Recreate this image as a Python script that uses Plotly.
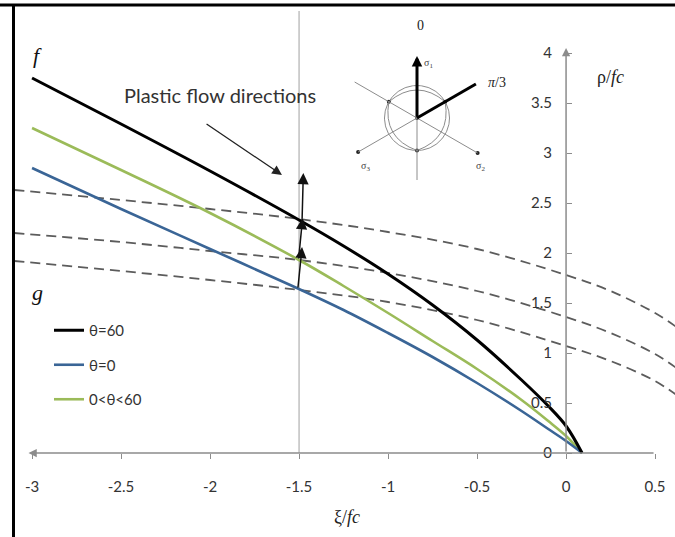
import numpy as np
import plotly.graph_objects as go

# ---- yield surface meridians f (hydrostatic axis xi/fc, deviatoric radius rho/fc)
XI = [-3.0, -2.5, -2.0, -1.5, -1.25, -1.0, -0.75, -0.5, -0.25, -0.1, 0.0, 0.09]
RHO_60 = [3.75, 3.29, 2.82, 2.33, 2.07, 1.79, 1.48, 1.13, 0.73, 0.47, 0.27, 0.0]
RHO_0 = [2.85, 2.44, 2.04, 1.64, 1.43, 1.20, 0.96, 0.70, 0.42, 0.24, 0.12, 0.0]
RHO_MID = [3.25, 2.83, 2.40, 1.93, 1.67, 1.40, 1.12, 0.84, 0.53, 0.32, 0.17, 0.0]

# ---- plastic potential curves g
XI_G = [-3.1, -2.5, -2.0, -1.5, -1.0, -0.5, 0.0, 0.25, 0.5, 0.62]
G_TOP = [2.63, 2.53, 2.44, 2.34, 2.21, 2.04, 1.78, 1.62, 1.40, 1.26]
G_MID = [2.20, 2.11, 2.02, 1.93, 1.80, 1.62, 1.36, 1.20, 0.99, 0.85]
G_LOW = [1.92, 1.82, 1.73, 1.63, 1.51, 1.33, 1.07, 0.92, 0.72, 0.58]

# ---- plastic flow direction arrows (tail -> head)
FLOW_TAIL_XI = [-1.507, -1.503, -1.483]
FLOW_TAIL_RHO = [1.64, 1.93, 2.33]
FLOW_HEAD_XI = [-1.483, -1.480, -1.476]
FLOW_HEAD_RHO = [2.06, 2.35, 2.80]

# ---- axis ticks
X_TICKS = [-3, -2.5, -2, -1.5, -1, -0.5, 0, 0.5]
X_TICK_TEXT = ["-3", "-2.5", "-2", "-1.5", "-1", "-0.5", "0", "0.5"]
Y_TICKS = [0, 0.5, 1, 1.5, 2, 2.5, 3, 3.5, 4]
Y_TICK_TEXT = ["0", "0.5", "1", "1.5", "2", "2.5", "3", "3.5", "4"]

XR = [-3.107, 0.612]
YR = [-0.84, 4.46]

W, H = 675, 537
ML, MR, MT, MB = 13, 0, 7, 0
PW, PH = W - ML - MR, H - MT - MB


def fx(px):
    return (px - ML) / PW


def fy(py):
    return (H - MB - py) / PH


SANS = "Lato"
SERIF = "Liberation Serif"
DASH = "10px,6px"

fig = go.Figure()

for g in (G_TOP, G_MID, G_LOW):
    fig.add_trace(go.Scatter(
        x=XI_G, y=g, mode="lines", showlegend=False, hoverinfo="skip",
        line=dict(color="#5c5c5c", width=1.8, dash=DASH, shape="spline", smoothing=1.0),
    ))

curves = [
    ("0<θ<60", RHO_MID, "#9bbb59", 2.6, 3),
    ("θ=0", RHO_0, "#3a6596", 2.6, 2),
    ("θ=60", RHO_60, "#000000", 3.0, 1),
]
for name, rho, col, w, rank in curves:
    fig.add_trace(go.Scatter(
        x=XI, y=rho, mode="lines", name=name, legendgroup=name, legendrank=rank,
        hoverinfo="skip",
        line=dict(color=col, width=w, shape="spline", smoothing=1.0),
    ))

# ---- deviatoric-plane sketch in its own pixel-scaled axes
R = 32.5
ang = np.deg2rad(np.linspace(0, 360, 181))
fig.add_trace(go.Scatter(
    x=R * np.cos(ang), y=R * np.sin(ang), xaxis="x2", yaxis="y2", mode="lines",
    line=dict(color="#8c8c8c", width=1), showlegend=False, hoverinfo="skip",
))


def pol(r, deg):
    a = np.deg2rad(deg)
    return float(r * np.cos(a)), float(r * np.sin(a))


VERT_DEG = [150, 30, 270]
CTRL_DEG = [90, 330, 210]
RC = 2 * 28 - R / 2
v = [pol(R, d) for d in VERT_DEG]
c = [pol(RC, d) for d in CTRL_DEG]
path = (f"M{v[0][0]},{v[0][1]} Q{c[0][0]},{c[0][1]} {v[1][0]},{v[1][1]} "
        f"Q{c[1][0]},{c[1][1]} {v[2][0]},{v[2][1]} "
        f"Q{c[2][0]},{c[2][1]} {v[0][0]},{v[0][1]} Z")

shapes = []
shapes.append(dict(type="path", path=path, xref="x2", yref="y2",
                   line=dict(color="#8c8c8c", width=1)))
thin_lines = [((0, 0), (0, -62)), (pol(72, 150), pol(70, 330)), ((0, 0), pol(68, 210))]
for (x0, y0), (x1, y1) in thin_lines:
    shapes.append(dict(type="line", xref="x2", yref="y2", x0=x0, y0=y0, x1=x1, y1=y1,
                       line=dict(color="#8c8c8c", width=1)))
px3, py3 = pol(68, 30)
shapes.append(dict(type="line", xref="x2", yref="y2", x0=0, y0=0, x1=px3, y1=py3,
                   line=dict(color="#000", width=3)))

dots = [pol(70, 330), pol(68, 210)] + v + [(0, 0)]
fig.add_trace(go.Scatter(
    x=[d[0] for d in dots], y=[d[1] for d in dots], xaxis="x2", yaxis="y2",
    mode="markers", marker=dict(color="#222", size=4), showlegend=False, hoverinfo="skip",
))

# vertical reference line at xi = -1.5
shapes.append(dict(type="line", xref="x", yref="y", x0=-1.5, x1=-1.5, y0=0, y1=4.42,
                   layer="below", line=dict(color="#a0a0a0", width=1)))

# outer frame (top and left)
shapes.append(dict(type="line", xref="paper", yref="paper", x0=fx(0), x1=1.0,
                   y0=fy(5), y1=fy(5), line=dict(color="#000", width=3)))
shapes.append(dict(type="line", xref="paper", yref="paper", x0=fx(13.5), x1=fx(13.5),
                   y0=fy(5), y1=fy(537), line=dict(color="#000", width=3)))

ann = []
# axis lines with arrowheads
ann.append(dict(x=-3.02, y=0, ax=0.5, ay=0, xref="x", yref="y", axref="x", ayref="y",
                showarrow=True, arrowhead=2, arrowsize=1.1, arrowwidth=1.5,
                arrowcolor="#8c8c8c", text=""))
ann.append(dict(x=0, y=4.05, ax=0, ay=0, xref="x", yref="y", axref="x", ayref="y",
                showarrow=True, arrowhead=2, arrowsize=1.1, arrowwidth=1.5,
                arrowcolor="#8c8c8c", text=""))
# flow arrows
for tx, ty, hx, hy in zip(FLOW_TAIL_XI, FLOW_TAIL_RHO, FLOW_HEAD_XI, FLOW_HEAD_RHO):
    ann.append(dict(x=hx, y=hy, ax=tx, ay=ty, xref="x", yref="y", axref="x", ayref="y",
                    showarrow=True, arrowhead=2, arrowsize=1.5, arrowwidth=1.5,
                    arrowcolor="#111", text=""))
# pointer from the caption
ann.append(dict(x=-1.596, y=2.78, ax=-2.028, ay=3.30, xref="x", yref="y",
                axref="x", ayref="y", showarrow=True, arrowhead=2, arrowsize=1.5,
                arrowwidth=1.3, arrowcolor="#222", text=""))
ann.append(dict(x=-1.944, y=3.58, xref="x", yref="y", text="Plastic flow directions",
                showarrow=False, font=dict(family=SANS, size=20, color="#333")))
ann.append(dict(x=-2.97, y=3.98, xref="x", yref="y", text="<i>f</i>", showarrow=False,
                font=dict(family=SERIF, size=22, color="#111")))
ann.append(dict(x=-2.97, y=1.61, xref="x", yref="y", text="<i>g</i>", showarrow=False,
                font=dict(family=SERIF, size=22, color="#111")))
ann.append(dict(x=0.247, y=3.76, xref="x", yref="y", text="ρ/<i>fc</i>", showarrow=False,
                font=dict(family=SERIF, size=18, color="#222")))
ann.append(dict(x=-1.23, y=-0.64, xref="x", yref="y", text="ξ/<i>fc</i>", showarrow=False,
                font=dict(family=SERIF, size=18, color="#222")))

# sketch labels and sigma_1 arrow
ann.append(dict(x=0, y=62, ax=0, ay=0, xref="x2", yref="y2", axref="x2", ayref="y2",
                showarrow=True, arrowhead=2, arrowsize=0.7, arrowwidth=3,
                arrowcolor="#000", text=""))
ann.append(dict(x=3, y=93, xref="x2", yref="y2", text="0", showarrow=False,
                font=dict(family=SERIF, size=14, color="#222")))
ann.append(dict(x=80, y=36, xref="x2", yref="y2", text="<i>π</i>/3", showarrow=False,
                font=dict(family=SERIF, size=14, color="#222")))
ann.append(dict(x=11, y=55, xref="x2", yref="y2", text="σ<sub>1</sub>", showarrow=False,
                font=dict(family=SERIF, size=10, color="#444")))
ann.append(dict(x=-52, y=-48, xref="x2", yref="y2", text="σ<sub>3</sub>", showarrow=False,
                font=dict(family=SERIF, size=10, color="#444")))
ann.append(dict(x=63, y=-48, xref="x2", yref="y2", text="σ<sub>2</sub>", showarrow=False,
                font=dict(family=SERIF, size=10, color="#444")))

fig.update_layout(
    width=W, height=H,
    margin=dict(l=ML, r=MR, t=MT, b=MB),
    paper_bgcolor="white", plot_bgcolor="white",
    font=dict(family=SANS, size=14, color="#333"),
    shapes=shapes, annotations=ann,
    showlegend=True,
    legend=dict(x=fx(49), y=fy(314), xanchor="left", yanchor="top",
                bgcolor="rgba(0,0,0,0)", traceorder="grouped", tracegroupgap=12,
                font=dict(family=SANS, size=15, color="#333"), itemwidth=30),
    xaxis=dict(range=XR, showgrid=False, zeroline=False, showline=False,
               tickvals=X_TICKS, ticktext=X_TICK_TEXT, ticks="outside", ticklen=5,
               tickcolor="#8c8c8c", anchor="free", position=(0 - YR[0]) / (YR[1] - YR[0]),
               ticklabelstandoff=15, tickfont=dict(family=SANS, size=15, color="#333")),
    yaxis=dict(range=YR, showgrid=False, zeroline=False, showline=False,
               tickvals=Y_TICKS, ticktext=Y_TICK_TEXT, ticks="inside", ticklen=5,
               tickcolor="#8c8c8c", anchor="free", side="left",
               position=(0 - XR[0]) / (XR[1] - XR[0]),
               ticklabelstandoff=14, tickfont=dict(family=SANS, size=15, color="#333")),
    xaxis2=dict(domain=[fx(340), fx(520)], range=[-77, 103], visible=False, anchor="y2"),
    yaxis2=dict(domain=[fy(190), fy(10)], range=[-72, 108], visible=False, anchor="x2"),
)

fig.write_html("out.html")
